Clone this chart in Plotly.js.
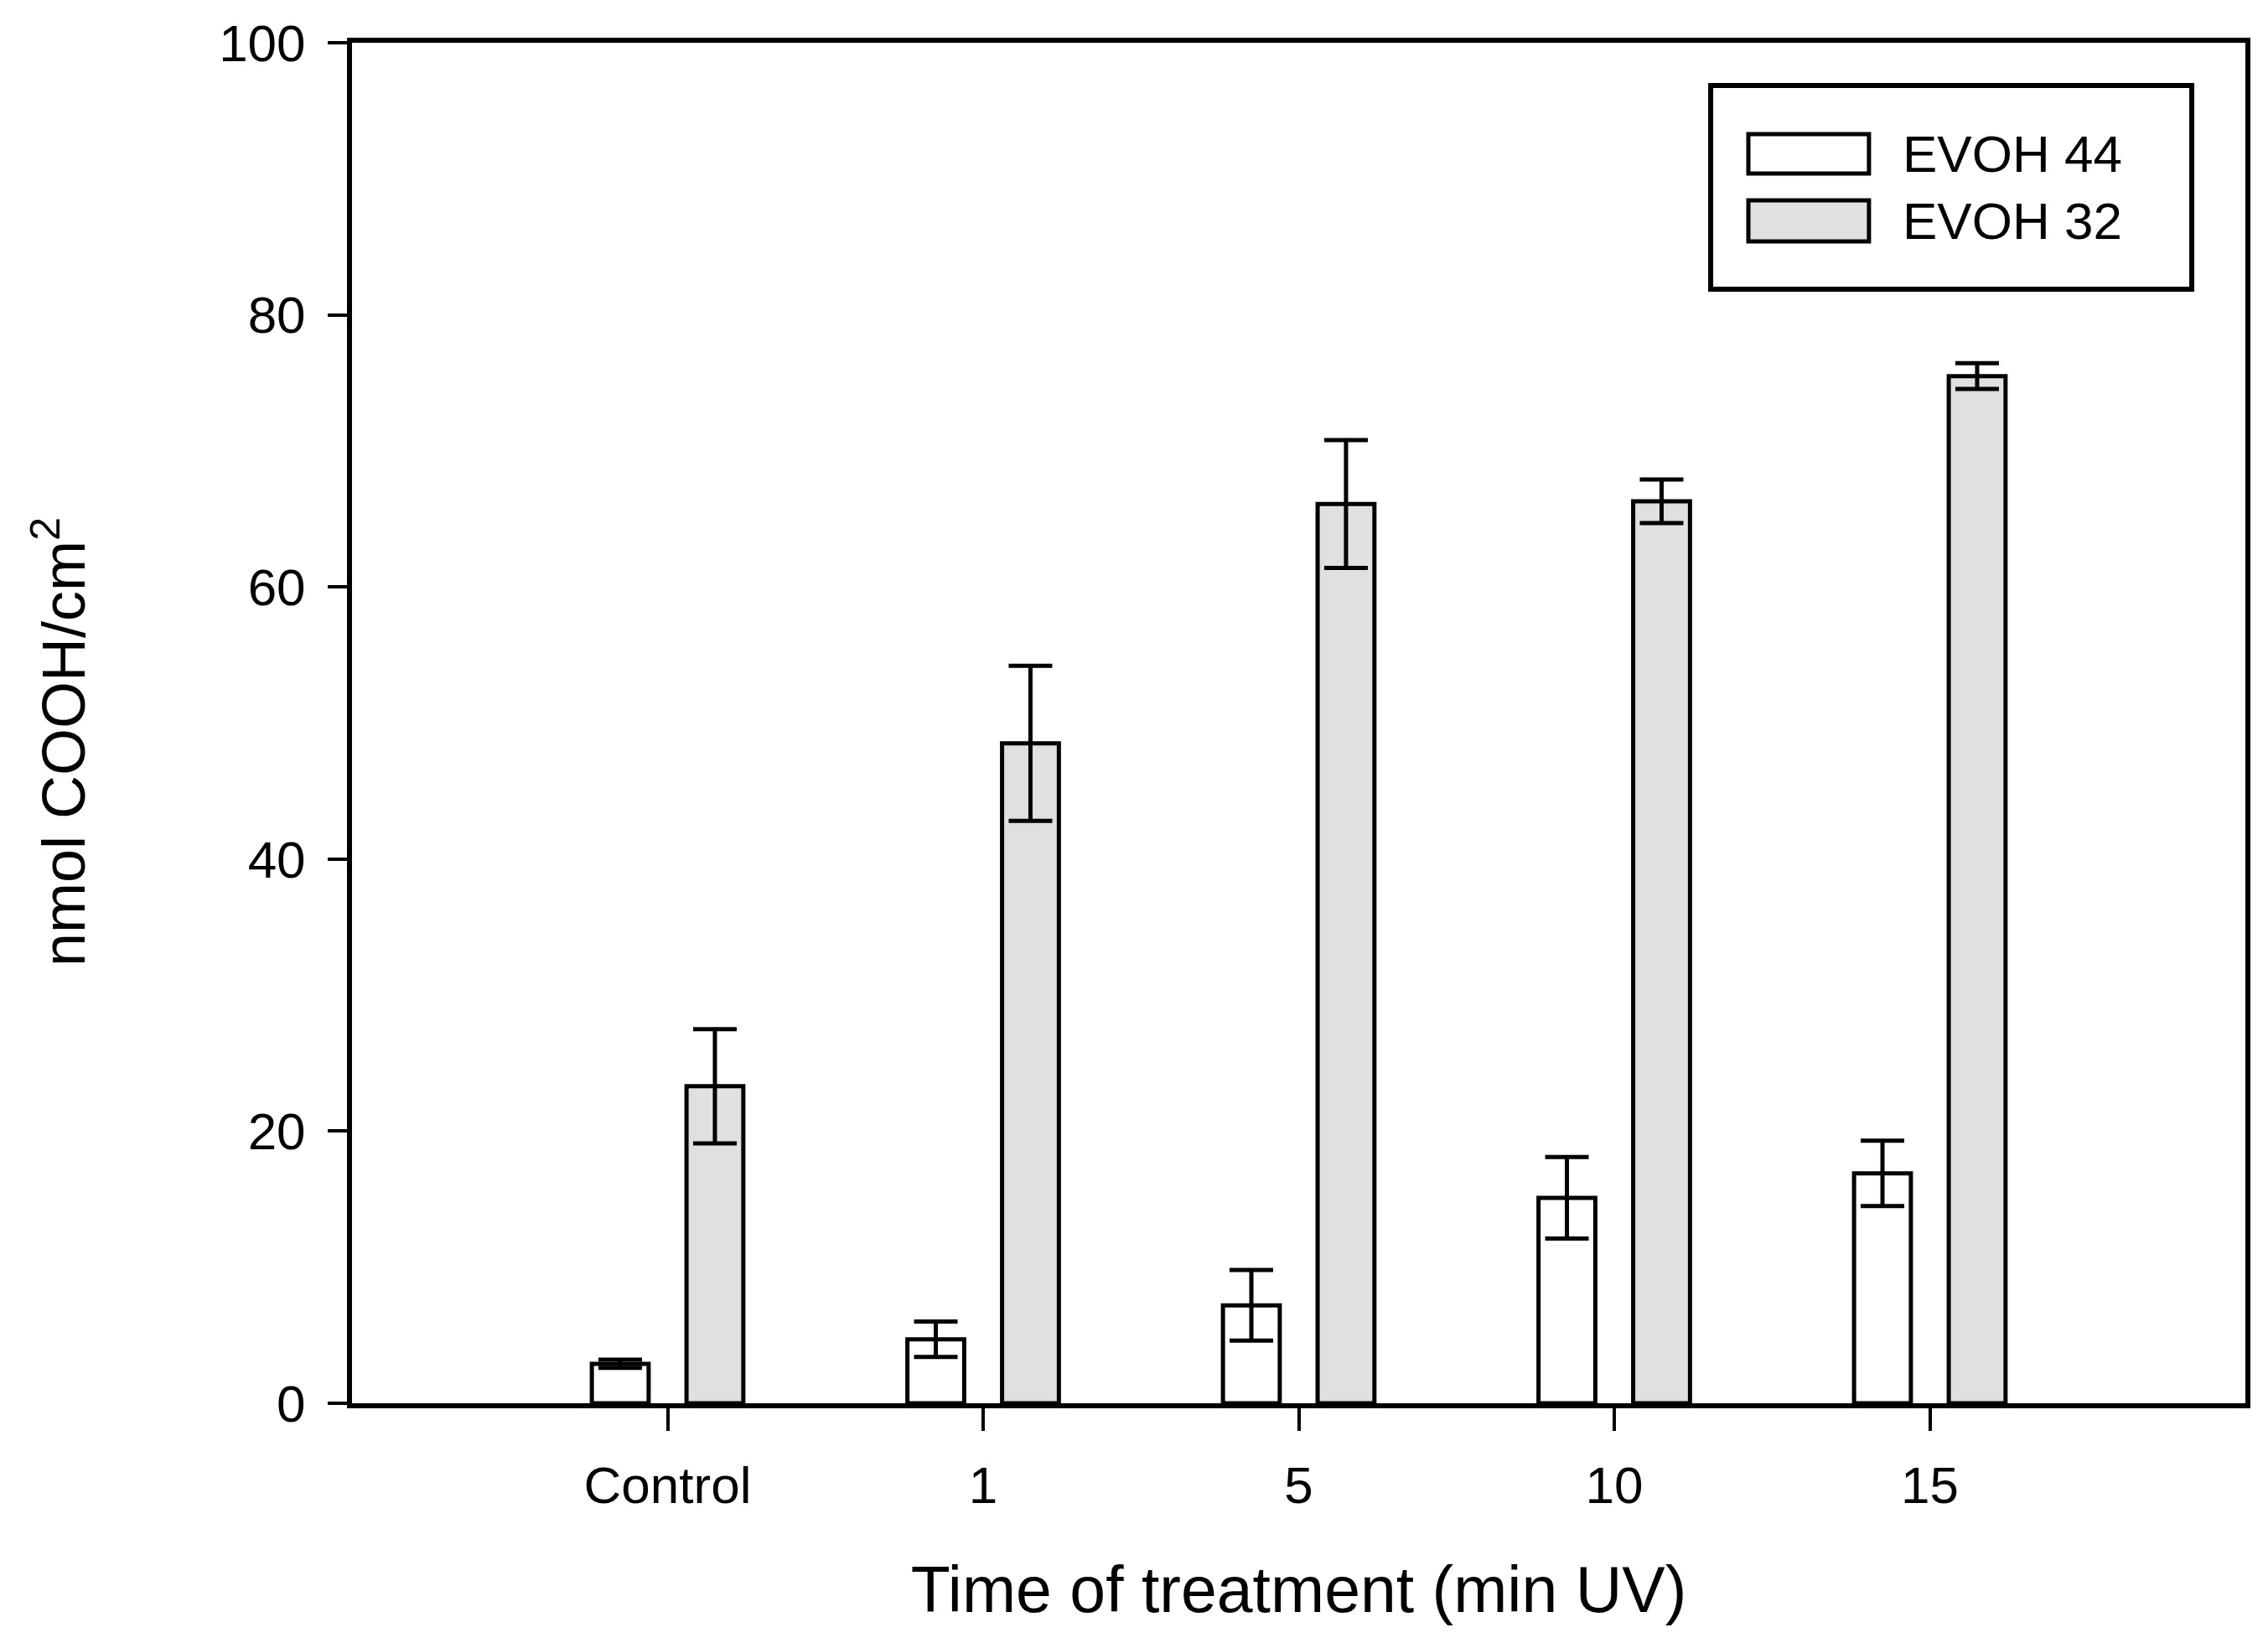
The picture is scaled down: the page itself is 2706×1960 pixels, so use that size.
<!DOCTYPE html>
<html>
<head>
<meta charset="utf-8">
<script src="https://cdn.plot.ly/plotly-3.0.1.min.js"></script>
<style>
  html, body { margin: 0; padding: 0; background: #ffffff; }
  #chart { width: 2706px; height: 1960px; }
</style>
</head>
<body>
<div id="chart"></div>
<script>
// Values (nmol COOH/cm2), mean and +/- error.
const categories = ['Control', '1', '5', '10', '15'];
const evoh44 = [2.9, 4.7, 7.2, 15.1, 16.9];
const evoh44Err = [0.3, 1.3, 2.6, 3.0, 2.4];
const evoh32 = [23.3, 48.5, 66.1, 66.3, 75.5];
const evoh32Err = [4.2, 5.7, 4.7, 1.6, 0.95];
const seriesNames = ['EVOH 44', 'EVOH 32'];

const FONT = 'Arial, "Liberation Sans", sans-serif';
const fills = ['#ffffff', '#e0e0e0'];

function barTrace(name, y, err, fill, offset) {
    return {
        type: 'bar',
        name: name,
        x: categories,
        y: y,
        width: 0.18,
        offset: offset,
        marker: { color: fill, line: { color: '#000000', width: 5 } },
        error_y: { type: 'data', array: err, visible: true, color: '#000000', thickness: 5, width: 26 },
        showlegend: false
    };
}

// Hand drawn legend box (native legend swatches are too small).
const legendShapes = [
    { type: 'rect', xref: 'paper', yref: 'paper', x0: 0.7176, x1: 0.9717, y0: 0.8189, y1: 0.9686,
      line: { color: '#000000', width: 6 }, fillcolor: 'rgba(0,0,0,0)' },
    { type: 'rect', xref: 'paper', yref: 'paper', x0: 0.7375, x1: 0.8012, y0: 0.9039, y1: 0.9328,
      line: { color: '#000000', width: 5 }, fillcolor: fills[0] },
    { type: 'rect', xref: 'paper', yref: 'paper', x0: 0.7375, x1: 0.8012, y0: 0.854, y1: 0.8842,
      line: { color: '#000000', width: 5 }, fillcolor: fills[1] }
];
const textAnnotations = [
    { xref: 'paper', yref: 'paper', x: 0.818, y: 0.9184, xanchor: 'left', yanchor: 'middle',
      text: seriesNames[0], showarrow: false, font: { family: FONT, size: 62, color: '#000000' } },
    { xref: 'paper', yref: 'paper', x: 0.818, y: 0.8693, xanchor: 'left', yanchor: 'middle',
      text: seriesNames[1], showarrow: false, font: { family: FONT, size: 62, color: '#000000' } },
    // y axis title, placed a little below the plot centre as in the reference
    { xref: 'paper', yref: 'paper', x: -0.155, y: 0.486, xanchor: 'center', yanchor: 'middle',
      textangle: -90, text: 'nmol COOH/cm<sup>2</sup>', showarrow: false,
      font: { family: FONT, size: 72, color: '#000000' } }
];

Plotly.newPlot(document.getElementById('chart'), [
    barTrace(seriesNames[0], evoh44, evoh44Err, fills[0], -0.24),
    barTrace(seriesNames[1], evoh32, evoh32Err, fills[1], 0.06)
], {
    width: 2706,
    height: 1960,
    margin: { l: 420, r: 27, t: 51, b: 286 },
    paper_bgcolor: '#ffffff',
    plot_bgcolor: '#ffffff',
    barmode: 'overlay',
    showlegend: false,
    font: { family: FONT, color: '#000000' },
    xaxis: {
        type: 'category',
        range: [-1, 5],
        showgrid: false, zeroline: false,
        showline: true, linecolor: '#000000', linewidth: 6, mirror: true,
        ticks: 'outside', ticklen: 27, tickwidth: 4, tickcolor: '#000000',
        ticklabelstandoff: 12,
        tickfont: { family: FONT, size: 62 },
        title: { text: 'Time of treatment (min UV)', font: { family: FONT, size: 77 }, standoff: 66 },
        fixedrange: true
    },
    yaxis: {
        range: [0, 100],
        tickvals: [0, 20, 40, 60, 80, 100],
        showgrid: false, zeroline: false,
        showline: true, linecolor: '#000000', linewidth: 6, mirror: true,
        ticks: 'outside', ticklen: 23, tickwidth: 4, tickcolor: '#000000',
        ticklabelstandoff: 14,
        tickfont: { family: FONT, size: 62 },
        fixedrange: true
    },
    shapes: legendShapes,
    annotations: textAnnotations
}, { staticPlot: true });
</script>
</body>
</html>
